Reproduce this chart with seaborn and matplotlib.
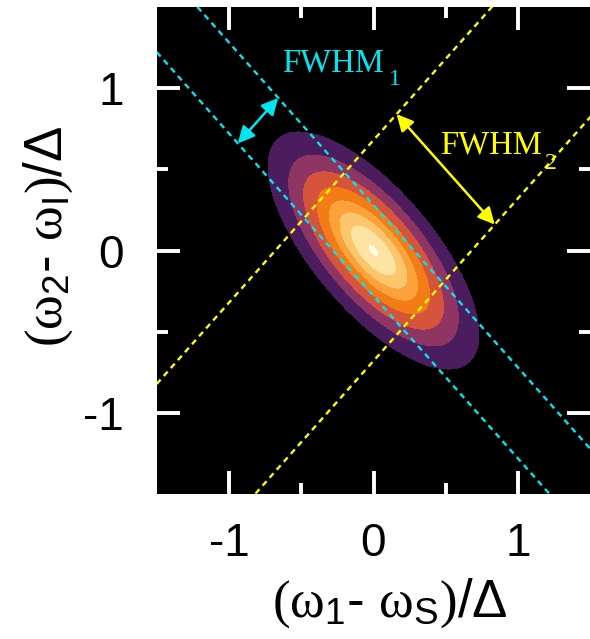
import numpy as np
import matplotlib
matplotlib.use("Agg")
import matplotlib.pyplot as plt
import seaborn as sns
import pandas as pd

# ---- data ----
tick_values = [-1, 0, 1]
tick_labels = ["-1", "0", "1"]
minor_ticks = [-0.5, 0.5]
cyan_offsets = [-0.28, 0.28]      # lines x + y = c  (FWHM_1)
yellow_offsets = [-0.68, 0.68]    # lines x - y = c  (FWHM_2)
levels = [0.065, 0.17, 0.30, 0.46, 0.62, 0.76, 0.89, 0.995]
band_colors = ["#4b1d5e", "#8e3564", "#d6533c", "#f47c16",
               "#fba23a", "#fdc66c", "#fee4a4", "#fffbea"]
fwhm1 = 2 * cyan_offsets[1] / np.sqrt(2)
fwhm2 = 2 * yellow_offsets[1] / np.sqrt(2)

sns.set_style("ticks")
plt.rcParams["font.family"] = ["Liberation Sans", "DejaVu Sans"]
plt.rcParams["axes.unicode_minus"] = False
plt.rcParams["mathtext.fontset"] = "custom"
plt.rcParams["mathtext.rm"] = "Liberation Serif"
plt.rcParams["mathtext.it"] = "Liberation Serif:italic"
plt.rcParams["mathtext.sf"] = "Liberation Sans"
plt.rcParams["text.color"] = "black"
plt.rcParams["axes.labelcolor"] = "black"

fig = plt.figure(figsize=(5.9, 6.39), dpi=100)
ax = fig.add_axes([157 / 590, 1 - 494 / 639, 433 / 590, 487 / 639])
ax.set_facecolor("black")

# Gaussian joint spectral intensity
g = np.linspace(-1.5, 1.5, 801)
X, Y = np.meshgrid(g, g)
su = fwhm2 / (2 * np.sqrt(2 * np.log(2)))
sv = fwhm1 / (2 * np.sqrt(2 * np.log(2)))
U = (X - Y) / np.sqrt(2)
V = (X + Y) / np.sqrt(2)
Z = np.exp(-U**2 / (2 * su**2) - V**2 / (2 * sv**2))
for lvl, col in zip(levels, band_colors):
    ax.contourf(X, Y, Z, levels=[lvl, 1.01], colors=[col])

# dashed FWHM lines
xs = np.array([-1.6, 1.6])
dfc = pd.DataFrame([{"x": xv, "y": c - xv, "line": f"c{i}"}
                    for i, c in enumerate(cyan_offsets) for xv in xs])
dfy = pd.DataFrame([{"x": xv, "y": xv - c, "line": f"y{i}"}
                    for i, c in enumerate(yellow_offsets) for xv in xs])
for name, d in dfc.groupby("line"):
    sns.lineplot(data=d, x="x", y="y", ax=ax, color="#00e5ee", lw=1.7,
                 linestyle=(0, (2.5, 2.0)), sort=False, estimator=None)
for name, d in dfy.groupby("line"):
    sns.lineplot(data=d, x="x", y="y", ax=ax, color="#ffff00", lw=1.7,
                 linestyle=(0, (2.5, 2.0)), sort=False, estimator=None)

# arrows
mc = np.array([-0.80, 0.80])
ax.annotate("", xy=mc + cyan_offsets[1] / 2 * np.array([1, 1]),
            xytext=mc + cyan_offsets[0] / 2 * np.array([1, 1]),
            arrowprops=dict(arrowstyle="<|-|>,head_length=1.0,head_width=0.5",
                            color="#00e5ee", lw=1.8, shrinkA=0, shrinkB=0))
my = np.array([0.50, 0.50])
ax.annotate("", xy=my + yellow_offsets[1] / 2 * np.array([1, -1]),
            xytext=my + yellow_offsets[0] / 2 * np.array([1, -1]),
            arrowprops=dict(arrowstyle="<|-|>,head_length=1.0,head_width=0.5",
                            color="#ffff00", lw=1.8, shrinkA=0, shrinkB=0))

serif = "Liberation Serif"
ax.text(-0.63, 1.10, "FWHM", color="#00e5ee", fontsize=23.5,
        family=serif, ha="left", va="baseline")
ax.text(0.108, 1.02, "1", color="#00e5ee", fontsize=17,
        family=serif, ha="left", va="baseline")
ax.text(0.46, 0.595, "FWHM", color="#ffff00", fontsize=23.5,
        family=serif, ha="left", va="baseline")
ax.text(1.19, 0.505, "2", color="#ffff00", fontsize=17,
        family=serif, ha="left", va="baseline")

ax.set_xlim(-1.5, 1.5)
ax.set_ylim(-1.5, 1.5)
ax.set_xticks(tick_values)
ax.set_xticklabels(tick_labels)
ax.set_yticks(tick_values)
ax.set_yticklabels(tick_labels)
ax.set_xticks(minor_ticks, minor=True)
ax.set_yticks(minor_ticks, minor=True)
ax.tick_params(which="both", direction="in", color="white", top=True, right=True,
               labelsize=33, width=2.8, labelcolor="black")
ax.tick_params(which="major", length=16.5)
ax.tick_params(which="minor", length=8)
ax.tick_params(axis="x", which="major", pad=20)
ax.tick_params(axis="y", which="major", pad=24)
for s in ax.spines.values():
    s.set_visible(False)

ax.set_xlabel(r"$\mathrm{(\omega}_{\mathsf{1}}$- $\mathrm{\omega}_{\mathsf{S}}\mathrm{)}\mathsf{/\Delta}$",
              fontsize=38)
ax.set_ylabel(r"$\mathrm{(\omega}_{\mathsf{2}}$- $\mathrm{\omega}_{\mathsf{I}}\mathrm{)}\mathsf{/\Delta}$",
              fontsize=38)
ax.xaxis.set_label_coords(0.538, -0.17)
ax.yaxis.set_label_coords(-0.19, 0.528)

fig.savefig("out.png", dpi=100, facecolor="white")
